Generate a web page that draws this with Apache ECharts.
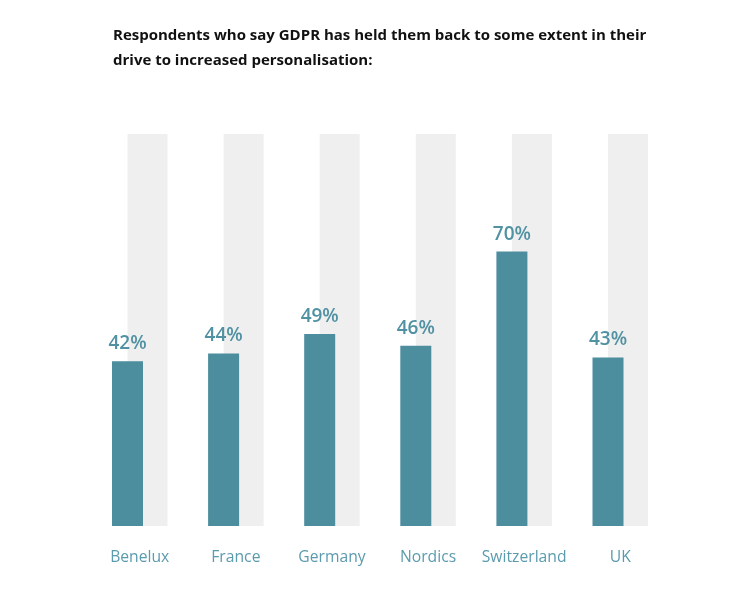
<!DOCTYPE html>
<html><head><meta charset="utf-8">
<script src="https://cdn.jsdelivr.net/npm/echarts@6/dist/echarts.min.js"></script>
<style>html,body{margin:0;padding:0;background:#fff}#c{width:750px;height:594px}</style>
</head><body><div id="c"></div>
<script>
var categories = ['Benelux', 'France', 'Germany', 'Nordics', 'Switzerland', 'UK'];
var values = [42, 44, 49, 46, 70, 43];
var backgroundValues = [100, 100, 100, 100, 100, 100];
var titleText = 'Respondents who say GDPR has held them back to some extent in their\ndrive to increased personalisation:';

var chart = echarts.init(document.getElementById('c'));
chart.setOption({
  animation: false,
  backgroundColor: '#ffffff',
  title: {
    text: titleText,
    left: 108, top: 18,
    textStyle: { fontFamily: 'Open Sans', fontWeight: 'bold', fontSize: 15, color: '#111', lineHeight: 25 }
  },
  grid: { left: 91.7, right: 81.7, top: 134, bottom: 68 },
  xAxis: {
    type: 'category', data: categories,
    axisLine: { show: false }, axisTick: { show: false },
    axisLabel: { interval: 0, color: '#5b9bad', fontSize: 15.7, fontFamily: 'Open Sans', margin: 24 }
  },
  yAxis: { type: 'value', min: 0, max: 100, show: false, splitLine: { show: false } },
  series: [
    {
      type: 'bar', data: values, barWidth: 31, barGap: '-50%', z: 3,
      itemStyle: { color: '#4c8d9e' },
      label: { show: true, position: 'top', distance: 8, formatter: '{c}%', color: '#5091a2', fontSize: 19, fontWeight: 600, fontFamily: 'Open Sans' }
    },
    {
      type: 'bar', data: backgroundValues, barWidth: 40, z: 1, silent: true,
      itemStyle: { color: '#efefef' }
    }
  ]
});
</script></body></html>
